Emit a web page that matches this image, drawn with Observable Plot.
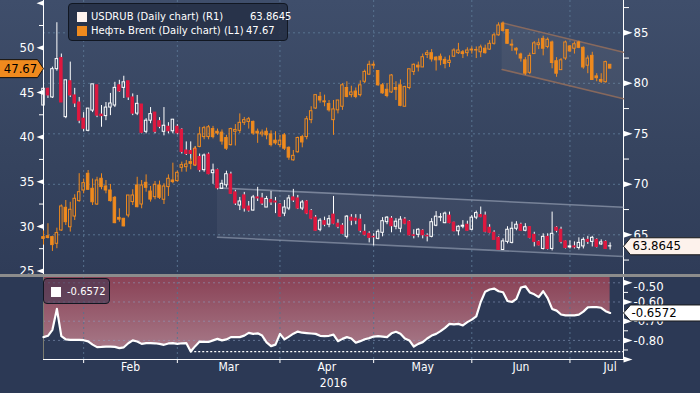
<!DOCTYPE html>
<html><head><meta charset="utf-8">
<script src="https://cdn.jsdelivr.net/npm/d3@7"></script>
<script src="https://cdn.jsdelivr.net/npm/@observablehq/plot@0.6"></script>
<style>
html,body{margin:0;padding:0;background:#2c3955;}
#wrap{position:relative;width:700px;height:393px;overflow:hidden;
 background:linear-gradient(180deg,#3f4e6b 0px,#36445f 150px,#2f3c58 274px,#2c3955 274px,#2c3955 393px);}
#wrap svg{position:absolute;left:0;}
.sep{position:absolute;left:0;top:274px;width:700px;height:3px;background:#8c8c8c;}
.box{position:absolute;box-sizing:border-box;border:1px solid #111722;border-radius:4px;
 font-family:"DejaVu Sans",sans-serif;font-size:10px;color:#fff;white-space:nowrap;}
.box span{position:absolute;line-height:12px;}
.sq{position:absolute;width:10px;height:10px;}
</style></head><body><div id="wrap"></div>
<script>
// ---------------- data (trading-day index 0..127, Jan 19 2016 .. Jul 12 2016) ----------------
const brentOpen  = [28.8,28.9,28.8,28.05,29.54,32.08,29.9,31.1,32.83,34.02,35.89,34.21,32.45,35.33,34.47,34.02,33.2,30.95,30.85,31.22,32.72,34.58,32.45,34.88,33.9,33.27,34.58,32.98,34.4,35.14,35.07,36.56,36.63,37.2,36.82,38.9,40.0,40.0,40.9,40.6,40.5,39.9,39.1,40.6,40.7,41.6,41.7,41.7,40.6,40.3,40.6,40.3,39.6,39.1,40.2,38.8,37.4,38.3,40.0,40.0,41.9,43.2,44.5,44.0,43.7,41.9,43.0,43.4,45.5,44.7,45.1,44.7,46.2,47.0,48.0,47.4,45.8,45.3,45.0,45.5,45.8,43.4,45.5,47.3,48.0,47.8,49.2,49.4,48.9,49.0,48.65,48.3,49.0,49.4,49.5,49.4,49.7,49.75,49.5,49.9,49.8,50.45,51.4,52.7,52.0,50.35,49.9,49.25,48.6,47.2,49.3,50.3,51.0,50.1,50.6,48.5,47.5,48.8,50.15,49.9,50.6,50.0,48.0,49.1,46.8,46.4,46.15,48.1];
const brentHigh  = [29.5,30.3,28.9,29.8,32.4,32.9,32.7,33.54,35.9,35.3,36.26,35.3,35.5,35.89,35.14,34.7,33.35,31.97,30.9,33.46,34.1,35.5,35.14,35.77,34.47,35.03,35.07,34.77,35.77,37.08,36.19,37.2,37.38,37.57,38.95,41.1,41.2,41.3,41.2,40.9,40.8,40.2,41.0,41.4,42.6,42.2,42.2,41.8,40.9,40.8,41.0,40.7,40.6,40.2,40.4,38.9,38.5,40.0,40.2,42.3,43.4,44.7,45.0,44.7,44.1,44.1,44.1,46.0,46.2,45.7,45.5,46.3,47.5,48.5,48.4,47.4,46.0,46.0,47.0,46.2,46.4,45.7,47.6,48.2,48.4,49.3,49.7,49.8,49.0,49.3,48.95,49.1,49.9,50.5,49.7,50.0,50.1,50.1,50.3,50.3,50.8,51.6,52.8,52.9,52.0,50.9,50.0,49.4,48.9,49.4,50.7,51.0,51.3,51.1,50.75,48.9,48.8,50.75,50.25,50.65,50.75,50.1,49.1,49.5,47.1,47.1,48.5,48.1];
const brentLow   = [27.9,28.6,27.2,27.5,29.45,30.1,29.36,30.66,32.7,33.65,34.02,32.34,32.34,34.1,33.65,32.72,30.3,30.47,29.95,30.96,32.34,32.08,31.97,33.83,32.72,32.98,33.01,32.45,33.35,34.77,34.96,36.07,36.07,36.34,36.71,38.8,39.7,39.7,39.8,40.2,39.1,38.5,39.0,39.0,40.4,41.3,40.9,40.2,39.3,40.0,39.7,38.9,39.1,38.8,38.5,37.4,37.3,38.2,38.8,39.7,41.5,43.1,43.8,43.4,42.8,40.2,42.6,43.0,44.4,44.4,44.3,44.5,46.0,46.9,47.6,45.7,44.8,44.4,44.9,44.1,43.4,43.4,45.3,46.9,47.3,47.8,48.8,48.4,47.4,48.0,47.65,47.8,48.95,49.25,48.8,49.0,49.3,48.8,48.9,49.3,49.7,50.3,51.3,51.75,50.4,49.6,49.2,48.4,46.9,47.0,49.25,49.8,49.1,49.9,47.65,46.7,47.5,48.6,49.5,49.3,49.9,47.6,47.1,46.35,46.2,46.0,46.05,47.65];
const brentClose = [28.6,28.7,27.9,29.25,32.23,30.47,31.86,33.09,33.83,34.84,34.1,32.7,35.14,34.4,34.02,32.83,30.36,30.75,30.0,33.46,33.46,32.15,34.58,34.32,33.0,34.66,33.2,34.47,35.33,34.96,36.0,36.86,36.93,37.0,38.69,40.3,41.0,41.1,40.0,40.4,39.5,38.7,40.9,40.8,41.6,41.9,42.0,40.4,40.4,40.5,40.2,39.1,39.3,39.6,38.7,37.7,37.9,39.9,39.4,42.0,42.9,44.7,44.1,43.9,43.0,43.1,44.1,45.8,44.5,45.0,44.5,45.8,47.3,48.1,48.1,45.8,44.9,44.6,46.9,45.3,43.5,45.6,47.6,48.1,47.8,48.95,49.4,48.7,48.6,48.6,48.2,48.55,49.7,49.7,49.3,49.7,49.8,49.7,50.05,49.4,50.45,51.4,52.5,51.9,50.45,50.25,49.7,48.8,47.1,49.1,50.5,50.5,49.9,50.9,48.3,47.1,48.6,50.6,49.6,50.4,50.0,47.8,48.8,46.4,46.6,46.2,48.4,47.67];

const rubOpen  = [77.8,79.46,78.6,81.4,82.5,76.65,80.2,78.8,78.1,76.5,75.3,77.3,79.8,76.9,76.75,77.6,77.8,79.8,79.55,80.2,78.6,77.0,77.9,75.2,76.3,77.1,76.25,75.2,75.7,75.25,75.7,75.4,73.35,73.3,73.5,72.7,71.4,72.95,71.1,71.4,69.55,69.9,70.97,69.2,67.9,68.9,67.8,67.4,68.7,68.6,67.7,68.45,68.3,68.0,67.1,67.6,68.7,68.6,67.6,68.3,67.35,66.7,65.5,66.35,66.0,67.0,66.1,65.9,64.8,66.7,66.6,66.5,65.3,65.1,64.8,64.6,65.2,66.25,66.6,65.8,65.6,66.5,66.3,64.95,65.0,65.4,64.9,64.8,65.9,66.7,66.15,66.9,66.2,65.35,65.8,66.0,65.5,66.7,66.95,66.9,65.7,65.2,64.7,63.5,64.3,64.2,65.6,66.0,65.4,65.75,65.0,64.3,63.6,64.8,63.6,65.7,65.5,64.35,63.75,63.85,63.7,63.85,64.5,64.3,64.5,64.05,64.3,63.85];
const rubHigh  = [79.5,79.5,81.6,86.0,82.9,80.3,82.1,79.5,78.6,77.1,77.5,79.9,79.8,77.8,78.1,79.0,80.1,80.3,80.7,80.2,78.95,78.8,77.9,76.5,77.6,77.1,76.6,77.6,76.1,76.4,75.9,75.5,74.2,74.2,73.7,73.0,73.0,73.1,72.0,71.5,70.4,71.3,71.2,69.4,68.7,69.2,68.3,68.9,69.7,69.1,68.8,69.3,68.7,68.1,68.4,68.9,69.5,68.9,68.4,68.4,67.5,66.9,66.6,66.75,66.9,68.8,66.5,66.1,66.9,67.0,67.0,67.0,66.0,65.3,65.1,65.5,66.7,66.8,66.8,66.6,66.8,66.7,66.4,65.5,65.6,65.5,65.1,66.6,67.3,67.1,67.25,67.25,66.25,65.9,66.4,66.35,66.9,67.35,67.75,67.25,66.0,65.4,64.8,64.6,65.8,66.25,66.3,66.15,66.1,65.8,65.25,64.4,65.1,65.1,67.25,65.8,65.75,64.4,64.4,64.3,64.7,64.7,64.85,64.85,64.6,64.5,64.4,64.2];
const rubLow   = [77.8,78.5,78.5,81.2,78.1,76.5,78.6,77.6,76.0,75.2,75.2,77.1,76.6,75.65,76.3,76.8,77.6,79.1,78.5,78.3,76.8,76.8,75.0,75.0,76.0,75.0,75.5,74.8,75.0,75.0,74.9,73.0,72.85,72.4,71.8,71.2,71.2,70.95,70.0,69.45,69.5,69.65,69.0,67.9,67.4,67.25,67.25,67.35,68.3,67.9,67.7,67.9,67.1,66.75,66.8,67.4,68.2,67.5,67.4,67.0,66.5,65.35,65.3,65.8,65.7,66.0,65.6,65.0,64.6,65.9,66.0,65.2,64.9,64.2,63.9,64.5,64.8,66.0,65.2,65.5,65.2,66.0,64.9,64.6,64.7,64.6,64.3,64.7,65.8,66.3,66.1,66.1,65.3,64.9,65.6,65.35,65.4,66.5,66.7,65.2,65.1,64.5,63.45,63.45,64.1,64.1,65.4,65.35,65.3,64.6,63.8,63.9,63.5,63.5,63.4,65.2,64.1,63.6,63.6,63.6,63.5,63.6,64.05,63.8,63.7,63.95,63.55,63.5];
const rubClose = [79.46,78.8,81.4,82.4,78.1,80.3,78.8,78.0,76.3,75.5,77.5,79.9,76.8,76.75,77.6,78.0,79.55,79.2,80.1,78.6,77.0,77.97,75.1,76.3,76.95,75.2,75.7,75.8,75.25,76.4,75.05,73.2,73.0,73.0,71.9,71.4,72.85,71.0,71.37,69.6,70.05,71.0,69.06,68.1,68.3,67.6,67.4,68.7,68.6,68.1,68.55,68.2,68.2,66.8,67.7,68.6,68.4,67.6,68.2,67.1,66.6,65.4,66.4,66.0,66.55,66.1,65.8,65.1,66.8,66.4,66.4,65.4,65.0,64.7,64.75,65.3,66.35,66.7,65.85,66.3,66.5,66.1,64.95,64.9,65.5,64.95,64.85,66.25,66.8,66.75,67.1,66.15,65.35,65.8,65.9,65.4,66.7,67.15,66.75,65.3,65.2,64.5,63.5,64.35,65.5,65.6,66.0,65.4,65.75,64.7,64.3,63.95,64.8,63.6,65.1,65.4,64.3,63.7,63.85,63.75,64.2,64.5,64.3,64.7,63.8,64.25,63.6,63.8645];

const corrValues = [-0.783,-0.776,-0.745,-0.636,-0.778,-0.795,-0.797,-0.797,-0.797,-0.799,
-0.805,-0.822,-0.835,-0.834,-0.832,-0.832,-0.834,-0.840,-0.836,-0.815,
-0.800,-0.806,-0.818,-0.814,-0.814,-0.815,-0.818,-0.823,-0.816,-0.814,
-0.818,-0.815,-0.814,-0.858,-0.830,-0.806,-0.808,-0.808,-0.800,-0.792,
-0.800,-0.795,-0.783,-0.783,-0.783,-0.775,-0.761,-0.766,-0.763,-0.775,
-0.810,-0.830,-0.822,-0.766,-0.795,-0.780,-0.765,-0.754,-0.760,-0.762,
-0.764,-0.766,-0.776,-0.778,-0.776,-0.770,-0.804,-0.792,-0.783,-0.790,
-0.812,-0.804,-0.794,-0.788,-0.780,-0.778,-0.780,-0.783,-0.763,-0.755,
-0.765,-0.790,-0.800,-0.832,-0.818,-0.809,-0.790,-0.775,-0.766,-0.752,
-0.735,-0.714,-0.717,-0.714,-0.722,-0.705,-0.692,-0.675,-0.600,-0.546,
-0.535,-0.530,-0.544,-0.549,-0.595,-0.600,-0.584,-0.525,-0.518,-0.550,
-0.560,-0.575,-0.544,-0.580,-0.636,-0.645,-0.665,-0.670,-0.670,-0.670,
-0.666,-0.650,-0.628,-0.626,-0.627,-0.630,-0.648,-0.6572];

// trend channels (trading-day index, value)
const rubChannelX = [39, 130];
const rubChannelUpper = [69.65, 67.73];
const rubChannelLower = [64.76, 62.85];
const brentChannelX = [102.8, 130];
const brentChannelUpper = [52.8, 49.5];
const brentChannelLower = [47.57, 44.29];

// axes
const monthStarts = [9, 30, 53, 74, 96, 118];
const monthNames = ["Feb", "Mar", "Apr", "May", "Jun", "Jul"];
const monthLabelAt = [19.5, 41.5, 63.5, 85, 107, 127];
const yearLabel = "2016";
const xDomain = [0, 130];
const brentDomain = [24.61, 55.30];
const rubDomain = [61.07, 88.20];
const corrDomain = [-0.8995, -0.4724];
const brentLabels = [25, 30, 35, 40, 45, 50];
const brentMarkers = [25, 30, 35, 40, 45, 50, 55];
const brentMinor = [27.5, 32.5, 37.5, 42.5, 47.5, 52.5];
const rubLabels = [65, 70, 75, 80, 85];
const rubMinor = [62.5, 67.5, 72.5, 77.5, 82.5, 87.5];
const corrLabels = [-0.5, -0.6, -0.7, -0.8];
const corrMarkers = [-0.5, -0.6, -0.7, -0.8, -0.9];
const corrMinor = [-0.55, -0.65, -0.75, -0.85];
const rubName = "USDRUB (Daily chart) (R1)";
const brentName = "Нефть Brent (Daily chart) (L1)";

// ---------------- styles ----------------
const ORANGE = "#ef8a1e", RED = "#e0183f", WHITE = "#ffffff", GRID = "#58728f";
const AXF = '"DejaVu Sans Condensed","DejaVu Sans",sans-serif';
const rows = (o, h, l, c) => o.map((_, i) => ({i, open: o[i], high: h[i], low: l[i], close: c[i]}));
const brent = rows(brentOpen, brentHigh, brentLow, brentClose);
const rub = rows(rubOpen, rubHigh, rubLow, rubClose);
const corr = corrValues.map((v, i) => ({i, v}));
const HW = 0.28;

function candles(data, upColor, downColor, wickColor) {
  return [
    Plot.ruleX(data, {x: "i", y1: "high", y2: d => Math.max(d.open, d.close), stroke: wickColor, strokeWidth: 1}),
    Plot.ruleX(data, {x: "i", y1: "low", y2: d => Math.min(d.open, d.close), stroke: wickColor, strokeWidth: 1}),
    Plot.rect(data.filter(d => d.close >= d.open), {x1: d => d.i - HW, x2: d => d.i + HW, y1: "open", y2: "close", fill: "none", stroke: upColor, strokeWidth: 1}),
    Plot.rect(data.filter(d => d.close < d.open), {x1: d => d.i - HW, x2: d => d.i + HW, y1: "open", y2: "close", fill: downColor, stroke: downColor, strokeWidth: 1})
  ];
}
const triRight = {draw(c) { c.moveTo(0, -3); c.lineTo(9, 0); c.lineTo(0, 3); c.closePath(); }};
const triLeft = {draw(c) { c.moveTo(0, -2.6); c.lineTo(-7, 0); c.lineTo(0, 2.6); c.closePath(); }};
const tagRight = {draw(c) { c.moveTo(0, 0); c.lineTo(7, -8.5); c.lineTo(80, -8.5); c.lineTo(80, 8.5); c.lineTo(7, 8.5); c.closePath(); }};
const tagRightSmall = {draw(c) { c.moveTo(0, 0); c.lineTo(7, -8); c.lineTo(80, -8); c.lineTo(80, 8); c.lineTo(7, 8); c.closePath(); }};
const tagLeft = {draw(c) { c.moveTo(0, 0); c.lineTo(-6, -9); c.lineTo(-44, -9); c.lineTo(-44, 9); c.lineTo(-6, 9); c.closePath(); }};

const common = {width: 700, marginLeft: 43, marginRight: 77, style: {background: "transparent", color: "white", fontFamily: AXF}};
const chan = (xs, lo, hi) => xs.map((x, k) => ({x, lo: lo[k], hi: hi[k]}));
const rubChan = chan(rubChannelX, rubChannelLower, rubChannelUpper);
const brentChan = chan(brentChannelX, brentChannelLower, brentChannelUpper);

// ---------------- USDRUB (right axis) ----------------
const lastRub = rub[rub.length - 1];
const rubPlot = Plot.plot({
  ...common, height: 274, marginTop: 0, marginBottom: 0,
  x: {domain: xDomain, axis: null},
  y: {domain: rubDomain, axis: "right", ticks: rubMinor, tickSize: 5, tickFormat: () => "", line: true, label: null},
  marks: [
    Plot.ruleY(rubLabels, {stroke: GRID, strokeDasharray: "2,3"}),
    Plot.ruleX(monthStarts, {stroke: GRID, strokeDasharray: "2,3"}),
    Plot.areaY(rubChan, {x: "x", y1: "lo", y2: "hi", fill: "white", fillOpacity: 0.05}),
    Plot.line(rubChan, {x: "x", y: "hi", stroke: "#aab3c4", strokeOpacity: 0.55, strokeWidth: 1.6}),
    Plot.line(rubChan, {x: "x", y: "lo", stroke: "#aab3c4", strokeOpacity: 0.55, strokeWidth: 1.6}),
    ...candles(rub, WHITE, RED, WHITE),
    Plot.dot(rubLabels, {y: d => d, frameAnchor: "right", symbol: triRight, fill: "white", stroke: "none"}),
    Plot.text(rubLabels, {y: d => d, frameAnchor: "right", dx: 10, textAnchor: "start", text: d => String(d), fill: "white", fontSize: 13, fontFamily: AXF}),
    Plot.dot([lastRub], {y: "close", frameAnchor: "right", symbol: tagRight, fill: "#fdf2ec", stroke: "#1a1a1a", strokeWidth: 1}),
    Plot.text([lastRub], {y: "close", frameAnchor: "right", dx: 9, textAnchor: "start", text: d => d.close.toFixed(4), fill: "#000", fontSize: 13, fontFamily: AXF})
  ]
});

// ---------------- Brent (left axis) ----------------
const lastBrent = brent[brent.length - 1];
const brentPlot = Plot.plot({
  ...common, height: 274, marginTop: 0, marginBottom: 0,
  x: {domain: xDomain, axis: null},
  y: {domain: brentDomain, axis: "left", ticks: brentMinor, tickSize: 4, tickFormat: () => "", line: true, label: null},
  marks: [
    Plot.areaY(brentChan, {x: "x", y1: "lo", y2: "hi", fill: "#d9c2b2", fillOpacity: 0.07}),
    Plot.line(brentChan, {x: "x", y: "hi", stroke: "#8f6c5c", strokeOpacity: 0.9, strokeWidth: 1.6}),
    Plot.line(brentChan, {x: "x", y: "lo", stroke: "#8f6c5c", strokeOpacity: 0.9, strokeWidth: 1.6}),
    ...candles(brent, ORANGE, ORANGE, ORANGE),
    Plot.dot(brentMarkers, {y: d => d, frameAnchor: "left", symbol: triLeft, fill: "white", stroke: "none"}),
    Plot.text(brentLabels, {y: d => d, frameAnchor: "left", dx: -9, textAnchor: "end", text: d => String(d), fill: "white", fontSize: 13, fontFamily: AXF}),
    Plot.dot([lastBrent], {y: "close", frameAnchor: "left", symbol: tagLeft, fill: ORANGE, stroke: "#111", strokeWidth: 1}),
    Plot.text([lastBrent], {y: "close", frameAnchor: "left", dx: -23, textAnchor: "middle", text: d => d.close.toFixed(2), fill: "#000", fontSize: 13, fontFamily: AXF})
  ]
});

// ---------------- correlation panel ----------------
const minI = d3.minIndex(corrValues);
const lastCorr = corr[corr.length - 1];
const corrPlot = Plot.plot({
  ...common, height: 116, marginTop: 0, marginBottom: 34,
  x: {domain: xDomain, axis: "bottom", ticks: monthStarts, tickSize: 4, tickFormat: () => "", line: true, label: null},
  y: {domain: corrDomain, axis: "right", ticks: corrMinor, tickSize: 4, tickFormat: () => "", line: true, label: null},
  marks: [
    Plot.areaY(corr, {x: "i", y1: "v", y2: corrDomain[1], fill: "url(#corrFill)"}),
    Plot.ruleY(corrLabels, {stroke: "#8fa3c4", strokeOpacity: 0.55, strokeDasharray: "2,3"}),
    Plot.ruleX(monthStarts, {stroke: GRID, strokeOpacity: 0.9, strokeDasharray: "2,3"}),
    Plot.ruleX([xDomain[0]], {stroke: "#7c7c70"}),
    Plot.ruleY([corr[minI]], {y: "v", x1: "i", x2: xDomain[1], stroke: "white", strokeWidth: 1.3, strokeDasharray: "2,2"}),
    Plot.line(corr, {x: "i", y: "v", stroke: "white", strokeWidth: 2.2}),
    Plot.text(monthNames.map((n, k) => ({n, p: monthLabelAt[k]})), {x: "p", text: "n", frameAnchor: "bottom", dy: 11, fill: "white", fontSize: 12, fontFamily: AXF}),
    Plot.text([yearLabel], {frameAnchor: "bottom", dy: 27, text: d => d, fill: "white", fontSize: 12, fontFamily: AXF}),
    Plot.dot(corrMarkers, {y: d => d, frameAnchor: "right", symbol: triRight, fill: "white", stroke: "none"}),
    Plot.text(corrLabels.slice(0, 1), {y: d => d, frameAnchor: "right", dx: 10, dy: 4, textAnchor: "start", text: d => d.toFixed(2), fill: "white", fontSize: 13, fontFamily: AXF}),
    Plot.text(corrLabels.slice(1), {y: d => d, frameAnchor: "right", dx: 10, textAnchor: "start", text: d => d.toFixed(2), fill: "white", fontSize: 13, fontFamily: AXF}),
    Plot.dot([lastCorr], {y: "v", frameAnchor: "right", symbol: tagRightSmall, fill: "#ffffff", stroke: "#1a1a1a", strokeWidth: 1}),
    Plot.text([lastCorr], {y: "v", frameAnchor: "right", dx: 8, textAnchor: "start", text: d => d.v.toFixed(4), fill: "#000", fontSize: 13, fontFamily: AXF})
  ]
});
const NS = "http://www.w3.org/2000/svg";
const defs = document.createElementNS(NS, "defs");
defs.innerHTML = '<linearGradient id="corrFill" x1="0" y1="0" x2="0" y2="1"><stop offset="0" stop-color="#8a4256"/><stop offset="1" stop-color="#a77a89"/></linearGradient>';
corrPlot.insertBefore(defs, corrPlot.firstChild);

// ---------------- assemble ----------------
const wrap = document.getElementById("wrap");
rubPlot.style.top = "0px"; brentPlot.style.top = "0px"; corrPlot.style.top = "277px";
wrap.append(rubPlot, brentPlot, corrPlot);
const sep = document.createElement("div"); sep.className = "sep"; wrap.append(sep);

const leg = document.createElement("div");
leg.className = "box";
Object.assign(leg.style, {left: "68px", top: "3px", width: "220px", height: "38px", background: "rgba(38,48,70,0.88)"});
leg.innerHTML =
  `<div class="sq" style="left:8px;top:8px;background:#fff4ef"></div><span style="left:22px;top:7px">${rubName}</span><span style="left:181px;top:7px">${lastRub.close.toFixed(4)}</span>` +
  `<div class="sq" style="left:8px;top:22px;background:${ORANGE}"></div><span style="left:22px;top:21px">${brentName}</span><span style="left:177px;top:21px">${lastBrent.close.toFixed(2)}</span>`;
wrap.append(leg);

const leg2 = document.createElement("div");
leg2.className = "box";
Object.assign(leg2.style, {left: "43px", top: "278px", width: "67px", height: "26px", background: "rgba(50,52,80,0.5)"});
leg2.innerHTML = `<div class="sq" style="left:7px;top:8px;background:#fff"></div><span style="left:23px;top:7px">${lastCorr.v.toFixed(4)}</span>`;
wrap.append(leg2);
</script></body></html>
